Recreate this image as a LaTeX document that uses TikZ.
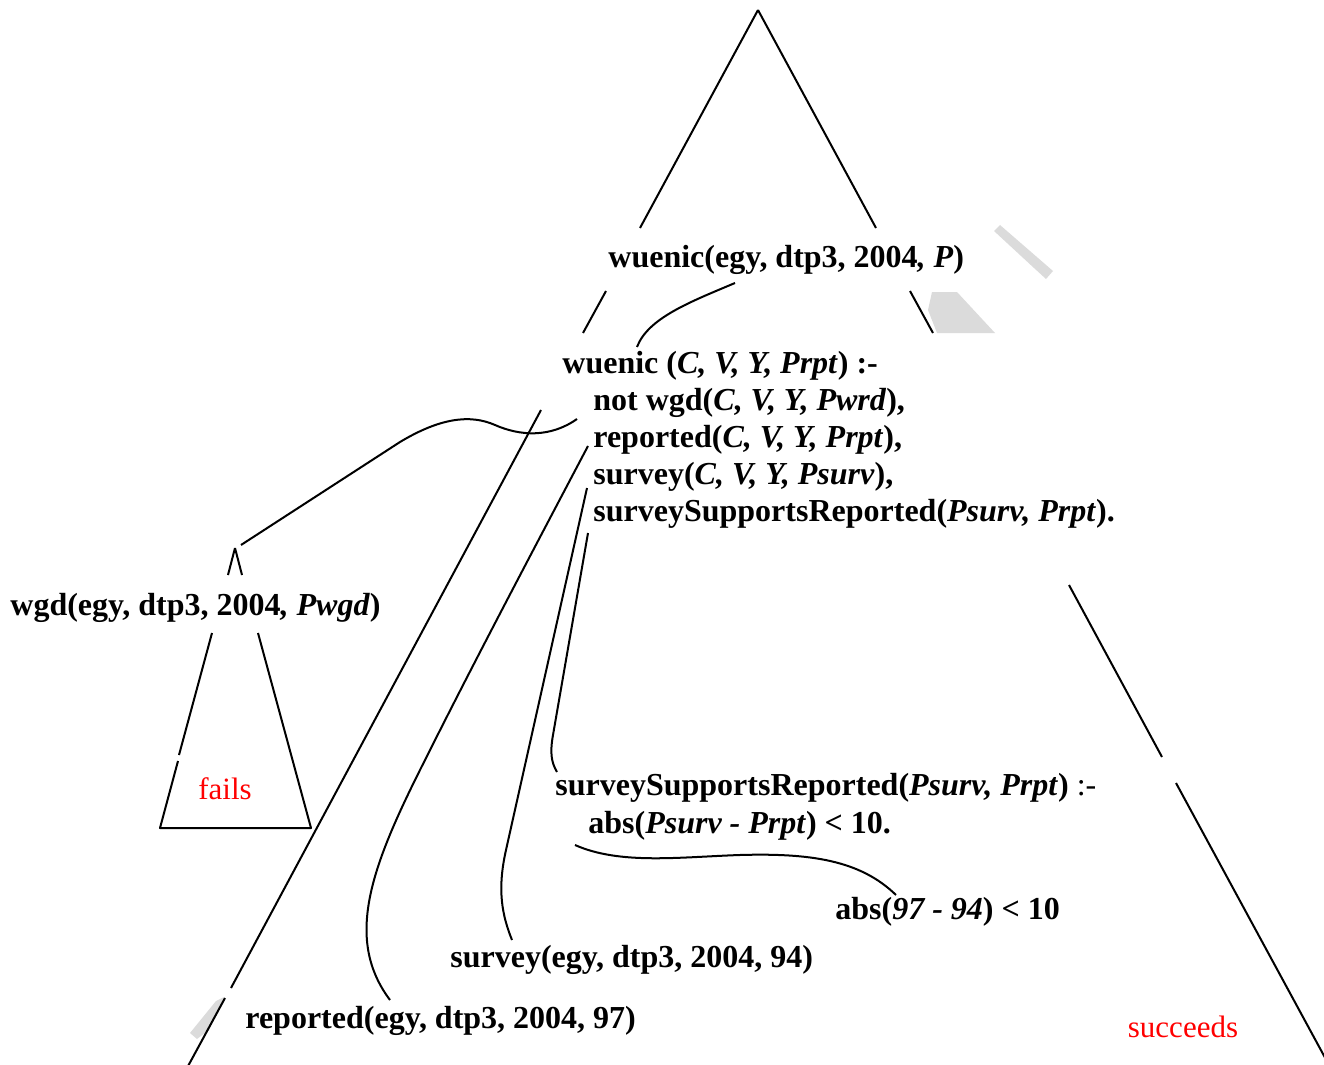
\documentclass[tikz,border=0pt]{standalone}
\usepackage{fontspec}
\setmainfont{Liberation Serif}
\usepackage{xcolor}
\colorlet{colorOutcome}{red}
\colorlet{colorShade}{black!14}
\usepackage{tikz}
\tikzset{
  term/.style={inner sep=0pt, anchor=west, font=\fontsize{16pt}{18pt}\selectfont\bfseries},
  outcome/.style={inner sep=0pt, text=colorOutcome, font=\fontsize{15.5pt}{18pt}\selectfont},
  tree/.style={line width=1pt},
  link/.style={line width=1pt}
}

\begin{document}
\begin{tikzpicture}[x=0.5pt, y=-0.5pt, line join=round]
\useasboundingbox (0,0) rectangle (1324,1065);
% shaded pieces
\fill[colorShade] (994,231) -- (1000,225) -- (1053,271) -- (1046,279) -- (1034,268) -- cycle;
\fill[colorShade] (932,292) -- (957,292) -- (995,333) -- (937,333) -- (928,310) -- cycle;
\fill[colorShade] (216,1001) -- (224,997) -- (209,1030) -- (197,1039) -- (190,1033) -- cycle;
% outer tree
\draw[tree] (758,10) -- (640,228) (606,291) -- (583,333) (541,410) -- (231,988) (225,998) -- (187,1068);
\draw[tree] (758,10) -- (876,228) (910,291) -- (933,333) (1069,585) -- (1162,757) (1176,783) -- (1329,1065);
% failing subtree
\draw[tree] (235,548) -- (228,575) (212,633) -- (179,755) (178,761) -- (160,828) -- (311,828) -- (258,633) (242,575) -- (235,548);

\node[term] (goal) at (608,260) {wuenic(egy, dtp3, 2004\textit{, P})};
\node[term] (head) at (562,366) {wuenic (\textit{C, V, Y, Prpt}) :-};
\node[term] (notwgd) at (593,403) {not wgd(\textit{C, V, Y, Pwrd}),};
\node[term] (rep) at (593,440) {reported(\textit{C, V, Y, Prpt}),};
\node[term] (surv) at (593,477) {survey(\textit{C, V, Y, Psurv}),};
\node[term] (ssr) at (593,514) {surveySupportsReported(\textit{Psurv, Prpt}).};
\node[term] (wgd) at (10,608) {wgd(egy, dtp3, 2004\textit{, Pwgd})};
\node[outcome] (fails) at (225,789) {fails};
\node[term] (ssrhead) at (555,788) {surveySupportsReported(\textit{Psurv, Prpt}) {\mdseries :-}};
\node[term] (absrule) at (588,826) {abs(\textit{Psurv - Prpt}) < 10.};
\node[term] (abscheck) at (835,912) {abs(\textit{97 - 94}) < 10};
\node[term] (survfact) at (450,960) {survey(egy, dtp3, 2004, 94)};
\node[term] (repfact) at (245,1021) {reported(egy, dtp3, 2004, 97)};
\node[outcome] (succ) at (1183,1027) {succeeds};

% unification links
\draw[link] ([shift={(127,23)}]goal.west) .. controls +(-45,19) and +(11,-29) .. ([shift={(75,-19)}]head.west);
\draw[link] ([shift={(-16,16)}]notwgd.west) .. controls +(-27,19) and +(25,11) .. (495,425)
  .. controls +(-25,-11) and +(40,-24) .. (400,442) -- ([shift={(231,-63)}]wgd.west);
\draw[link] ([shift={(-5,6)}]rep.west) .. controls +(-68,129) and +(50,-100) .. (420,770)
  .. controls +(-50,100) and +(-45,-60) .. ([shift={(145,-21)}]repfact.west);
\draw[link] ([shift={(-6,11)}]surv.west) -- (506,850) .. controls +(-9,40) and +(-10,-25) .. ([shift={(62,-20)}]survfact.west);
\draw[link] ([shift={(-5,19)}]ssr.west) -- (553,735) .. controls +(-3,17) and +(-6,-10) .. ([shift={(2,-16)}]ssrhead.west);
\draw[link] ([shift={(-13,19)}]absrule.west) .. controls +(45,20) and +(-60,2) .. (740,855)
  .. controls +(70,-2) and +(-36,-35) .. ([shift={(61,-17)}]abscheck.west);
\end{tikzpicture}
\end{document}
